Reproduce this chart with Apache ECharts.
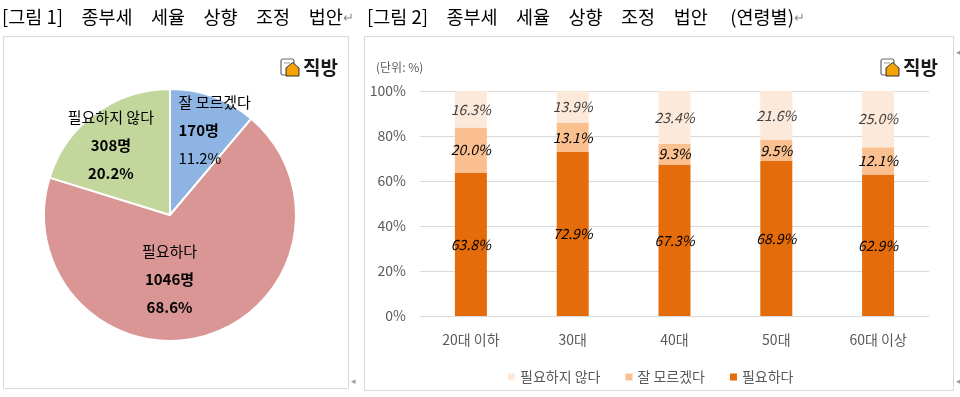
<!DOCTYPE html>
<html>
<head>
<meta charset="utf-8">
<script src="https://cdn.jsdelivr.net/npm/echarts@6/dist/echarts.min.js"></script>
<style>
html, body { margin: 0; padding: 0; background: #fff; }
#main { width: 960px; height: 397px; }
</style>
</head>
<body>
<div id="main"></div>
<script>
// [그림 1] 응답자 수
var pieNames = ["잘 모르겠다", "필요하다", "필요하지 않다"];
var pieCounts = [170, 1046, 308];
var pieColors = ["#8eb4e3", "#d99694", "#c3d69b"];

// [그림 2] 연령별 응답 비율 (%)
var ageGroups = ["20대 이하", "30대", "40대", "50대", "60대 이상"];
var needYes = [63.8, 72.9, 67.3, 68.9, 62.9];
var needUnsure = [20.0, 13.1, 9.3, 9.5, 12.1];
var needNo = [16.3, 13.9, 23.4, 21.6, 25.0];
var yTicks = [0, 20, 40, 60, 80, 100];

var font = '"Noto Sans CJK KR", "Noto Sans", sans-serif';
var gray = "#595959";

// 파이 라벨 위치 보정 (조각 순서대로)
var pieLabelTweak = [
  { offset: [22, -23], formatter: "{nl|{b}}\n{cl|{c}명}\n{pl|{d}%}" },
  { offset: [-19, 1] },
  { offset: [-20, -17] }
];

function richLine(bold, left) {
  var s = { fontSize: 15, lineHeight: 28, color: "#000", fontFamily: font };
  if (bold) s.fontWeight = "bold";
  if (left) s.align = "left";
  return s;
}

function logo(x, y) {
  return {
    type: "group",
    x: x,
    y: y,
    children: [
      { type: "rect", shape: { x: 0, y: 0, width: 13, height: 16, r: 2 }, style: { fill: "#fff", stroke: "#666", lineWidth: 1.2 } },
      { type: "line", shape: { x1: 3, y1: 4, x2: 9, y2: 4 }, style: { stroke: "#999", lineWidth: 1 } },
      { type: "polygon", shape: { points: [[5, 9], [11.5, 3.5], [18, 9], [18, 17], [5, 17]] }, style: { fill: "#f5a300", stroke: "#333", lineWidth: 1 } },
      { type: "text", x: 22, y: 9, style: { text: "직방", font: "bold 19px " + font, fill: "#1a1a1a", verticalAlign: "middle" } }
    ]
  };
}

function title(x, text) {
  return {
    type: "text",
    x: x,
    y: 17,
    style: {
      text: text + "{a|↵}",
      font: "18.5px " + font,
      fill: "#000",
      verticalAlign: "middle",
      rich: { a: { fontSize: 13, fill: "#888", fontFamily: font } }
    }
  };
}

function pctLabel(color) {
  return {
    show: true,
    position: "inside",
    fontSize: 14,
    fontStyle: "italic",
    fontFamily: font,
    color: color,
    formatter: function (p) { return p.value.toFixed(1) + "%"; }
  };
}

var chart = echarts.init(document.getElementById("main"));

chart.setOption({
  animation: false,
  textStyle: { fontFamily: font },
  graphic: [
    title(2, "[그림 1]　종부세　세율　상향　조정　법안"),
    title(367, "[그림 2]　종부세　세율　상향　조정　법안　 (연령별)"),
    { type: "rect", shape: { x: 3.5, y: 36.5, width: 345, height: 352 }, style: { fill: "none", stroke: "#d9d9d9" } },
    { type: "rect", shape: { x: 364.5, y: 36.5, width: 589, height: 354 }, style: { fill: "none", stroke: "#d9d9d9" } },
    { type: "text", x: 351, y: 381, style: { text: "◂", font: "9px " + font, fill: "#999", verticalAlign: "middle" } },
    { type: "text", x: 956, y: 52, style: { text: "◂", font: "9px " + font, fill: "#999", verticalAlign: "middle" } },
    { type: "text", x: 956, y: 381, style: { text: "◂", font: "9px " + font, fill: "#999", verticalAlign: "middle" } },
    { type: "text", x: 376, y: 67, style: { text: "(단위: %)", font: "12px " + font, fill: gray, verticalAlign: "middle" } },
    logo(281, 59),
    logo(881, 59)
  ],
  legend: {
    data: ["필요하지 않다", "잘 모르겠다", "필요하다"],
    left: 503,
    top: 365,
    icon: "rect",
    itemWidth: 7,
    itemHeight: 7,
    itemGap: 25,
    textStyle: { fontSize: 14, color: gray, fontFamily: font }
  },
  grid: { left: 420, right: 31, top: 91, bottom: 81 },
  xAxis: {
    type: "category",
    data: ageGroups,
    axisTick: { show: false },
    axisLine: { lineStyle: { color: "#d9d9d9" } },
    axisLabel: { fontSize: 14, color: gray, margin: 17 }
  },
  yAxis: {
    type: "value",
    min: yTicks[0],
    max: yTicks[yTicks.length - 1],
    interval: yTicks[1] - yTicks[0],
    axisLine: { show: false },
    axisTick: { show: false },
    splitLine: { lineStyle: { color: "#d9d9d9" } },
    axisLabel: { fontSize: 14, color: gray, margin: 14, formatter: "{value}%" }
  },
  series: [
    {
      type: "pie",
      center: [170, 215],
      radius: 126,
      startAngle: 90,
      clockwise: true,
      percentPrecision: 1,
      silent: true,
      itemStyle: { borderColor: "#fff", borderWidth: 2 },
      labelLine: { show: false },
      label: {
        position: "inside",
        color: "#000",
        fontFamily: font,
        formatter: "{n|{b}}\n{c|{c}명}\n{p|{d}%}",
        rich: {
          n: richLine(false, false),
          c: richLine(true, false),
          p: richLine(true, false),
          nl: richLine(false, true),
          cl: richLine(true, true),
          pl: richLine(false, true)
        }
      },
      data: pieNames.map(function (n, i) {
        return { name: n, value: pieCounts[i], itemStyle: { color: pieColors[i] }, label: pieLabelTweak[i] };
      })
    },
    {
      name: "필요하다",
      type: "bar",
      stack: "age",
      barWidth: 32,
      data: needYes,
      itemStyle: { color: "#e46c0a" },
      label: pctLabel("#000")
    },
    {
      name: "잘 모르겠다",
      type: "bar",
      stack: "age",
      barWidth: 32,
      data: needUnsure,
      itemStyle: { color: "#fac090" },
      label: pctLabel("#000")
    },
    {
      name: "필요하지 않다",
      type: "bar",
      stack: "age",
      barWidth: 32,
      data: needNo,
      itemStyle: { color: "#fde9d9" },
      label: pctLabel("#404040")
    }
  ]
});
</script>
</body>
</html>
